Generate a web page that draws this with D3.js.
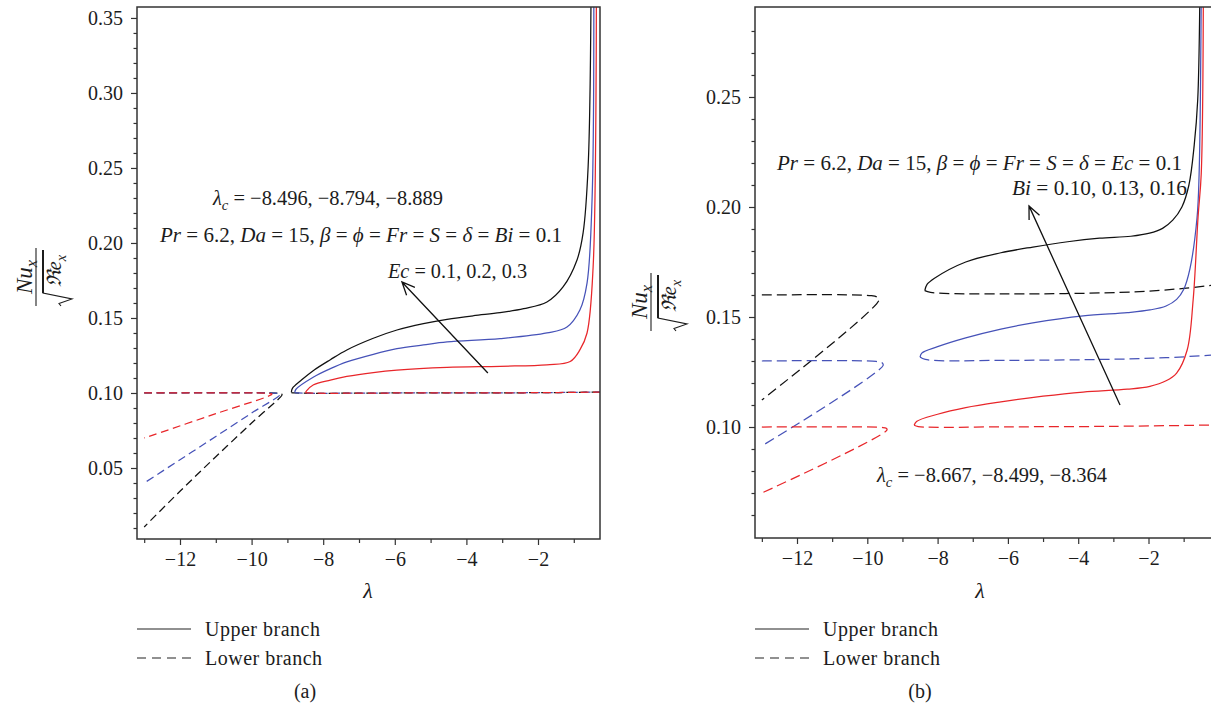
<!DOCTYPE html>
<html>
<head>
<meta charset="utf-8">
<script src="https://cdn.jsdelivr.net/npm/d3@7"></script>
<style>
  html, body { margin: 0; padding: 0; background: #fff; }
  svg { display: block; }
  svg text { font-family: "Liberation Serif", "Times New Roman", serif; }
</style>
</head>
<body>
<script>
// ---------- data: Nu_x / sqrt(Re_x) against lambda ----------
const lambdaTicks = [-12, -10, -8, -6, -4, -2];
const lambdaMinorTicks = [-13, -11, -9, -7, -5, -3, -1];
const nuTicksA = [0.05, 0.10, 0.15, 0.20, 0.25, 0.30, 0.35];
const nuMinorA = d3.range(1, 36).map(i => i / 100).filter(v => Math.round(v * 100) % 5 !== 0);
const nuTicksB = [0.10, 0.15, 0.20, 0.25];
const nuMinorB = d3.range(6, 29).map(i => i / 100).filter(v => Math.round(v * 100) % 5 !== 0);

// (a) Ec = 0.1 (red), 0.2 (blue), 0.3 (black)
const ecValues = [0.1, 0.2, 0.3];
const ecLambdaC = [-8.496, -8.794, -8.889];
const aUpperRed = [[-8.496, 0.1003], [-8.46, 0.1016], [-8.28, 0.1053], [-7.8, 0.1086], [-7.34, 0.1110], [-6.6, 0.1136], [-5.94, 0.1152], [-4.54, 0.1170], [-3.06, 0.1178], [-1.75, 0.1188], [-1.1, 0.1210], [-0.83, 0.1287], [-0.63, 0.140], [-0.46, 0.184], [-0.37, 0.36]];
const aUpperBlue = [[-8.794, 0.1005], [-8.76, 0.1025], [-8.28, 0.1105], [-7.8, 0.1162], [-7.34, 0.1207], [-6.6, 0.1258], [-5.94, 0.1295], [-5.2, 0.1320], [-4.54, 0.1340], [-3.06, 0.1362], [-1.75, 0.1400], [-1.19, 0.1440], [-0.83, 0.1553], [-0.63, 0.1733], [-0.49, 0.2287], [-0.44, 0.36]];
const aUpperBlack = [[-8.889, 0.1005], [-8.86, 0.1031], [-8.6, 0.1088], [-8.28, 0.1149], [-7.8, 0.1222], [-7.34, 0.1287], [-6.6, 0.1365], [-5.94, 0.1420], [-5.2, 0.1462], [-4.54, 0.1491], [-3.8, 0.1515], [-3.06, 0.1535], [-2.4, 0.1562], [-1.75, 0.1607], [-1.3, 0.1707], [-0.91, 0.1887], [-0.74, 0.2067], [-0.6, 0.2507], [-0.52, 0.36]];
const aLowerRightRed = [[-8.496, 0.1003], [-8.4, 0.1000], [-6, 0.1000], [-2, 0.1002], [-0.268, 0.1006]];
const aLowerRightBlue = [[-8.794, 0.1003], [-8.7, 0.1000], [-6, 0.1000], [-2, 0.1002], [-0.268, 0.1006]];
const aLowerRightBlack = [[-8.889, 0.1003], [-8.8, 0.1000], [-6, 0.1000], [-2, 0.1002], [-0.268, 0.1006]];
const aLowerLeftRed = [[-13, 0.1000], [-9.6, 0.0999], [-9.45, 0.0996], [-9.43, 0.0992], [-11, 0.0862], [-13, 0.0700]];
const aLowerLeftBlue = [[-13, 0.1000], [-9.4, 0.0999], [-9.23, 0.0995], [-9.2, 0.0990], [-10, 0.0866], [-11, 0.0710], [-12, 0.0555], [-13, 0.0400]];
const aLowerLeftBlack = [[-13, 0.1000], [-9.3, 0.0999], [-9.16, 0.0994], [-9.15, 0.0988], [-10, 0.0800], [-11, 0.0575], [-12, 0.0345], [-13, 0.0107]];

// (b) Bi = 0.10 (red), 0.13 (blue), 0.16 (black)
const biValues = [0.10, 0.13, 0.16];
const biLambdaC = [-8.667, -8.499, -8.364];
const bUpperRed = [[-8.667, 0.1008], [-8.6, 0.1025], [-8.0, 0.1058], [-7.2, 0.1088], [-6.2, 0.1114], [-5.0, 0.1140], [-3.86, 0.1159], [-2.6, 0.1172], [-1.96, 0.1185], [-1.5, 0.1210], [-1.2, 0.1245], [-0.9, 0.1350], [-0.73, 0.1577], [-0.59, 0.1955], [-0.5, 0.2150], [-0.44, 0.295]];
const bUpperBlue = [[-8.499, 0.1318], [-8.45, 0.1336], [-8.0, 0.1365], [-7.2, 0.1405], [-6.2, 0.1445], [-5.29, 0.1473], [-3.86, 0.1505], [-2.6, 0.1520], [-1.96, 0.1532], [-1.5, 0.1550], [-1.2, 0.1580], [-1.0, 0.1625], [-0.82, 0.1720], [-0.62, 0.1950], [-0.56, 0.2150], [-0.5, 0.295]];
const bUpperBlack = [[-8.364, 0.1620], [-8.3, 0.1648], [-8.1, 0.1675], [-7.2, 0.1750], [-6.2, 0.1792], [-5.29, 0.1818], [-4.3, 0.1842], [-3.39, 0.1858], [-2.5, 0.1867], [-1.97, 0.1881], [-1.6, 0.1903], [-1.31, 0.1940], [-1.05, 0.2000], [-0.85, 0.2100], [-0.7, 0.2280], [-0.6, 0.2486], [-0.54, 0.295]];
const bLowerRightRed = [[-8.667, 0.1008], [-8.55, 0.1002], [-6, 0.1001], [-3, 0.1003], [-0.165, 0.1009]];
const bLowerRightBlue = [[-8.499, 0.1318], [-8.35, 0.1307], [-6, 0.1303], [-3, 0.1308], [-1.5, 0.1315], [-0.165, 0.1327]];
const bLowerRightBlack = [[-8.364, 0.1620], [-8.2, 0.1612], [-6, 0.1605], [-2.44, 0.1614], [-1.0, 0.1630], [-0.165, 0.1645]];
const bLowerLeftRed = [[-13, 0.1000], [-9.6, 0.0998], [-9.46, 0.0994], [-9.44, 0.0986], [-13, 0.0700]];
const bLowerLeftBlue = [[-13, 0.1300], [-9.75, 0.1298], [-9.58, 0.1292], [-9.55, 0.1280], [-13, 0.0914]];
const bLowerLeftBlack = [[-13, 0.1600], [-9.9, 0.1597], [-9.72, 0.1590], [-9.67, 0.1577], [-13, 0.1123]];

const legendLabels = ["Upper branch", "Lower branch"];

// ---------- drawing ----------
const colors = { red: "#e8262a", blue: "#4652b8", black: "#111111" };
const ink = "#1c1c1c";
const serif = "'Liberation Serif', 'Times New Roman', serif";
const W = 1211, H = 711;
const svg = d3.select("body").append("svg").attr("width", W).attr("height", H);

// Writes a run of styled pieces into a <text>: flags "i" italic, "s" subscript
function rich(textSel, parts) {
  let shift = 0;
  parts.forEach(([t, f = ""]) => {
    const ts = textSel.append("tspan").text(t);
    if (f.includes("i")) ts.attr("font-style", "italic");
    const target = f.includes("s") ? 5 : 0;
    if (target !== shift) { ts.attr("dy", target - shift); shift = target; }
    if (f.includes("s")) ts.attr("font-size", "0.72em");
  });
  return textSel;
}

function drawPanel(cfg) {
  const x = d3.scaleLinear().domain(cfg.xDomain).range([cfg.left, cfg.right]);
  const y = d3.scaleLinear().domain(cfg.yDomain).range([cfg.bottom, cfg.top]);
  const g = svg.append("g");

  const clipId = "clip-" + cfg.id;
  g.append("clipPath").attr("id", clipId).append("rect")
    .attr("x", cfg.left).attr("y", cfg.top)
    .attr("width", cfg.right - cfg.left).attr("height", cfg.bottom - cfg.top);

  // axes
  const styleAxis = a => {
    a.attr("font-family", null).attr("font-size", null);
    a.select(".domain").remove();
    a.selectAll(".tick line").attr("stroke", "#333").attr("stroke-width", 1.2);
    a.selectAll(".tick text").attr("fill", ink).style("font-size", "20px").style("font-family", serif);
  };
  g.append("g").attr("transform", `translate(0,${cfg.bottom})`)
    .call(d3.axisBottom(x).tickValues(lambdaTicks).tickSize(6).tickPadding(7).tickFormat(d3.format("d")))
    .call(styleAxis);
  g.append("g").attr("transform", `translate(0,${cfg.bottom})`)
    .call(d3.axisBottom(x).tickValues(lambdaMinorTicks).tickSize(4).tickFormat(""))
    .call(styleAxis);
  g.append("g").attr("transform", `translate(${cfg.left},0)`)
    .call(d3.axisLeft(y).tickValues(cfg.yTicks).tickSize(6).tickPadding(8).tickFormat(d3.format(".2f")))
    .call(styleAxis);
  g.append("g").attr("transform", `translate(${cfg.left},0)`)
    .call(d3.axisLeft(y).tickValues(cfg.yMinor).tickSize(3.5).tickFormat(""))
    .call(styleAxis);

  // curves
  const line = d3.line().x(d => x(d[0])).y(d => y(d[1])).curve(d3.curveCatmullRom.alpha(0.5));
  const plot = g.append("g").attr("clip-path", `url(#${clipId})`);
  cfg.series.forEach(s => {
    plot.append("path").attr("d", line(s.data))
      .attr("fill", "none").attr("stroke", colors[s.color]).attr("stroke-width", 1.25)
      .attr("stroke-dasharray", s.dashed ? cfg.dash : null)
      .attr("stroke-linejoin", "round");
  });

  // frame
  g.append("rect").attr("x", cfg.left).attr("y", cfg.top)
    .attr("width", cfg.right - cfg.left).attr("height", cfg.bottom - cfg.top)
    .attr("fill", "none").attr("stroke", "#333").attr("stroke-width", 1.5);

  // arrow
  const [t0, t1] = cfg.arrow;
  const ax0 = x(t0[0]), ay0 = y(t0[1]), ax1 = x(t1[0]), ay1 = y(t1[1]);
  const ang = Math.atan2(ay1 - ay0, ax1 - ax0);
  const hl = 14, ha = 0.42;
  g.append("path")
    .attr("d", `M${ax0},${ay0}L${ax1},${ay1}M${ax1 - hl * Math.cos(ang - ha)},${ay1 - hl * Math.sin(ang - ha)}L${ax1},${ay1}L${ax1 - hl * Math.cos(ang + ha)},${ay1 - hl * Math.sin(ang + ha)}`)
    .attr("fill", "none").attr("stroke", "#111").attr("stroke-width", 1.3);

  // annotations
  cfg.notes.forEach(n => {
    const t = g.append("text").attr("x", n.x).attr("y", n.y).attr("font-size", 21).attr("fill", ink);
    rich(t, n.parts);
    if (n.len) t.attr("textLength", n.len).attr("lengthAdjust", "spacingAndGlyphs");
  });

  // axis title lambda
  g.append("text").attr("x", cfg.titleX).attr("y", 598).attr("text-anchor", "middle")
    .attr("font-size", 22).attr("font-style", "italic").attr("fill", ink).text("λ");

  // y title: Nu_x / sqrt(Re_x)
  const yl = g.append("g").attr("transform", `translate(${cfg.yLabel[0]},${cfg.yLabel[1]}) rotate(-90)`);
  rich(yl.append("text").attr("x", 0).attr("y", -13).attr("text-anchor", "middle")
    .attr("font-size", 23).attr("fill", ink), [["Nu", "i"], ["x", "is"]]);
  yl.append("line").attr("x1", -29).attr("x2", 29).attr("y1", -9).attr("y2", -9)
    .attr("stroke", "#333").attr("stroke-width", 1.2);
  yl.append("path").attr("d", "M-29,16L-26.5,14L-22,27L-16,-2L27,-2")
    .attr("fill", "none").attr("stroke", ink).attr("stroke-width", 1.1);
  yl.append("line").attr("x1", -16).attr("x2", 27).attr("y1", -2).attr("y2", -2)
    .attr("stroke", ink).attr("stroke-width", 2);
  rich(yl.append("text").attr("x", 6).attr("y", 16).attr("text-anchor", "middle")
    .attr("font-size", 20).attr("fill", ink), [["ℜe", "i"], ["x", "is"]]);

  // legend
  const lg = g.append("g");
  [[629, null], [658, "9,6"]].forEach(([ly, dash], i) => {
    lg.append("line").attr("x1", cfg.left).attr("x2", cfg.left + 54).attr("y1", ly).attr("y2", ly)
      .attr("stroke", "#222").attr("stroke-width", 1.2).attr("stroke-dasharray", dash);
    lg.append("text").attr("x", cfg.left + 68).attr("y", ly + 7).attr("font-size", 20)
      .attr("letter-spacing", 0.5).attr("fill", ink).text(legendLabels[i]);
  });
  g.append("text").attr("x", cfg.captionX).attr("y", 698).attr("text-anchor", "middle")
    .attr("font-size", 20).attr("fill", ink).text(cfg.caption);
}

const fmtList = (arr, f) => arr.map(f).join(", ");
const minus = v => (v < 0 ? "−" : "") + Math.abs(v).toFixed(3);

drawPanel({
  id: "a", left: 137, right: 600, top: 7, bottom: 539,
  xDomain: [-13.201, -0.268], yDomain: [0.00267, 0.3573],
  yTicks: nuTicksA, yMinor: nuMinorA, dash: "8,4.5",
  series: [
    { data: aLowerLeftBlack, color: "black", dashed: true },
    { data: aLowerLeftBlue, color: "blue", dashed: true },
    { data: aLowerLeftRed, color: "red", dashed: true },
    { data: aLowerRightBlack, color: "black", dashed: true },
    { data: aLowerRightBlue, color: "blue", dashed: true },
    { data: aLowerRightRed, color: "red", dashed: true },
    { data: aUpperBlack, color: "black" },
    { data: aUpperBlue, color: "blue" },
    { data: aUpperRed, color: "red" }
  ],
  arrow: [[-3.40, 0.1133], [-5.80, 0.174]],
  notes: [
    { x: 213, y: 205, len: 230, parts: [["λ", "i"], ["c", "is"], [" = " + fmtList(ecLambdaC, minus)]] },
    { x: 160, y: 242, len: 402, parts: [["Pr", "i"], [" = 6.2, "], ["Da", "i"], [" = 15, "], ["β", "i"], [" = "], ["ϕ", "i"], [" = "], ["Fr", "i"], [" = "], ["S", "i"], [" = "], ["δ", "i"], [" = "], ["Bi", "i"], [" = 0.1"]] },
    { x: 388, y: 278, len: 139, parts: [["Ec", "i"], [" = " + fmtList(ecValues, v => v.toFixed(1))]] }
  ],
  titleX: 368, yLabel: [45, 277], captionX: 305, caption: "(a)"
});

drawPanel({
  id: "b", left: 755, right: 1213, top: 7, bottom: 538,
  xDomain: [-13.195, -0.165], yDomain: [0.04955, 0.2909],
  yTicks: nuTicksB, yMinor: nuMinorB, dash: "10,5",
  series: [
    { data: bLowerLeftBlack, color: "black", dashed: true },
    { data: bLowerLeftBlue, color: "blue", dashed: true },
    { data: bLowerLeftRed, color: "red", dashed: true },
    { data: bLowerRightBlack, color: "black", dashed: true },
    { data: bLowerRightBlue, color: "blue", dashed: true },
    { data: bLowerRightRed, color: "red", dashed: true },
    { data: bUpperBlack, color: "black" },
    { data: bUpperBlue, color: "blue" },
    { data: bUpperRed, color: "red" }
  ],
  arrow: [[-2.81, 0.110], [-5.40, 0.2005]],
  notes: [
    { x: 777, y: 170, len: 405, parts: [["Pr", "i"], [" = 6.2, "], ["Da", "i"], [" = 15, "], ["β", "i"], [" = "], ["ϕ", "i"], [" = "], ["Fr", "i"], [" = "], ["S", "i"], [" = "], ["δ", "i"], [" = "], ["Ec", "i"], [" = 0.1"]] },
    { x: 1012, y: 195, len: 175, parts: [["Bi", "i"], [" = " + fmtList(biValues, v => v.toFixed(2))]] },
    { x: 877, y: 482, len: 230, parts: [["λ", "i"], ["c", "is"], [" = " + fmtList(biLambdaC, minus)]] }
  ],
  titleX: 980, yLabel: [660, 302], captionX: 920, caption: "(b)"
});
</script>
</body>
</html>
